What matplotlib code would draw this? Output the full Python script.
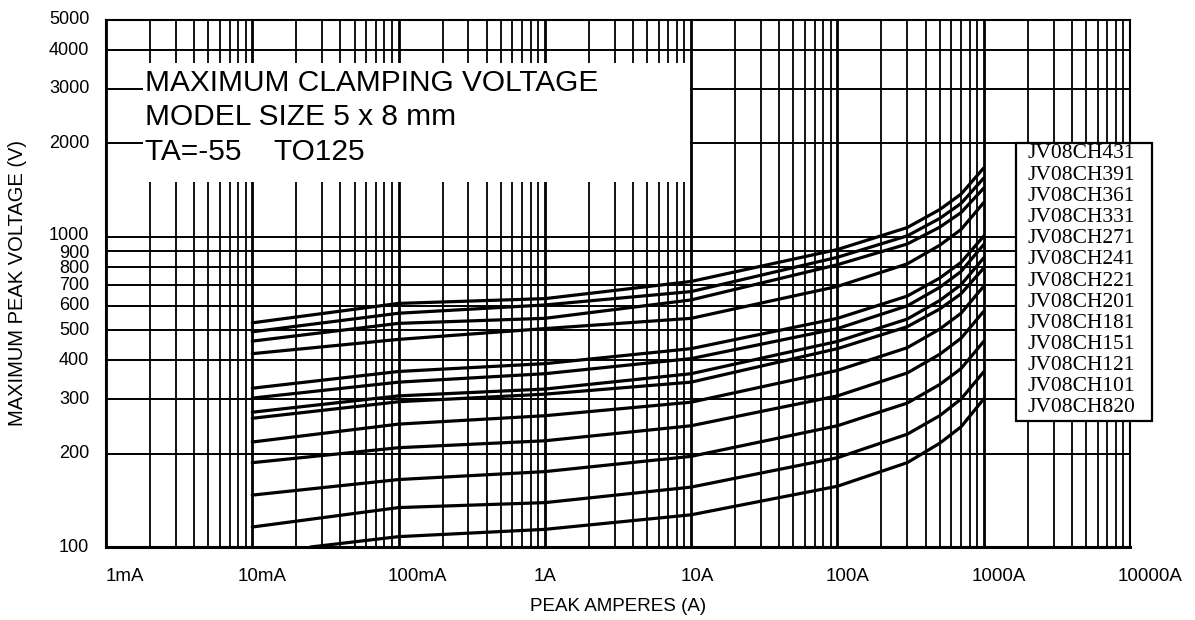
import matplotlib
matplotlib.use("Agg")
import matplotlib.pyplot as plt
from matplotlib.patches import Rectangle
from matplotlib.ticker import FixedLocator, NullLocator, NullFormatter
from matplotlib.transforms import ScaledTranslation

# ---------------- data ----------------
models = ["JV08CH431", "JV08CH391", "JV08CH361", "JV08CH331", "JV08CH271",
          "JV08CH241", "JV08CH221", "JV08CH201", "JV08CH181", "JV08CH151",
          "JV08CH121", "JV08CH101", "JV08CH820"]

current_pts = [0.01, 0.1, 1, 10, 100, 300, 500, 700, 1000]      # A
current_pts_820 = [0.025, 0.1, 1, 10, 100, 300, 500, 700, 1000]  # A

v_431 = [528, 610, 632, 718, 910, 1071, 1224, 1373, 1667]
v_391 = [494, 567, 603, 666, 859, 1007, 1146, 1281, 1546]
v_361 = [461, 526, 546, 626, 813, 948, 1074, 1197, 1435]
v_331 = [420, 467, 506, 546, 692, 818, 939, 1056, 1289]
v_271 = [325, 368, 390, 436, 546, 644, 736, 827, 1005]
v_241 = [302, 340, 362, 405, 506, 599, 687, 773, 944]
v_221 = [272, 307, 323, 362, 460, 543, 623, 701, 855]
v_201 = [260, 294, 311, 340, 436, 513, 585, 655, 793]
v_181 = [218, 249, 265, 293, 371, 439, 504, 567, 693]
v_151 = [187, 209, 220, 246, 307, 364, 418, 471, 575]
v_121 = [147, 165, 175, 196, 246, 291, 334, 376, 460]
v_101 = [116, 134, 139, 156, 194, 231, 265, 300, 367]
v_820 = [100, 108, 114, 127, 157, 187, 216, 244, 300]

series = [v_431, v_391, v_361, v_331, v_271, v_241, v_221, v_201,
          v_181, v_151, v_121, v_101, v_820]

x_tick_vals = [1e-3, 1e-2, 1e-1, 1, 10, 100, 1000, 10000]
x_tick_labels = ["1mA", "10mA", "100mA", "1A", "10A", "100A", "1000A", "10000A"]
y_tick_vals = [100, 200, 300, 400, 500, 600, 700, 800, 900, 1000,
               2000, 3000, 4000, 5000]
y_tick_labels = ["100", "200", "300", "400", "500", "600", "700", "800", "900",
                 "1000", "2000", "3000", "4000", "5000"]
title_lines = ["MAXIMUM CLAMPING VOLTAGE", "MODEL SIZE 5 x 8 mm", "TA=-55    TO125"]

# ---------------- layout ----------------
W, H = 1195, 620
fig = plt.figure(figsize=(W / 100, H / 100), dpi=100)
ax = fig.add_axes([106 / W, 1 - 547 / H, (1130 - 106) / W, (547 - 20) / H])

sans = ["Liberation Sans", "DejaVu Sans"]
serif = ["Liberation Serif", "DejaVu Serif"]

ax.set_xscale("log")
ax.set_yscale("log")
ax.set_xlim(1e-3, 1e4)
ax.set_ylim(100, 5000)

# grid
minor_x = [m * 10.0 ** e for e in range(-3, 4) for m in range(2, 10)]
ax.xaxis.set_major_locator(FixedLocator(x_tick_vals))
ax.xaxis.set_minor_locator(FixedLocator(minor_x))
ax.xaxis.set_minor_formatter(NullFormatter())
ax.set_xticklabels(x_tick_labels)
ax.yaxis.set_major_locator(FixedLocator(y_tick_vals))
ax.yaxis.set_minor_locator(NullLocator())
ax.set_yticklabels(y_tick_labels)

ax.grid(which="major", axis="x", color="black", lw=2.0)
ax.grid(which="minor", axis="x", color="black", lw=1.3)
ax.grid(which="major", axis="y", color="black", lw=1.4)

ax.tick_params(which="both", length=0)
ax.tick_params(axis="y", pad=12, labelsize=13)
ax.tick_params(axis="x", pad=15, labelsize=13.5)
for lab in ax.get_xticklabels() + ax.get_yticklabels():
    lab.set_family(sans)

# shift tick labels slightly like the reference
x_label_shift_px = [19, 10, 19, 0, 6, 10, 15, 20]
for lab, dx in zip(ax.get_xticklabels(), x_label_shift_px):
    lab.set_transform(lab.get_transform() + ScaledTranslation(dx / 100, 0, fig.dpi_scale_trans))
y_label_shift_px = [2, 2, 2, 2, 2, 2, 1, 0, 0, 3, 2, 2, 2, 2]
for lab, dy in zip(ax.get_yticklabels(), y_label_shift_px):
    lab.set_transform(lab.get_transform() + ScaledTranslation(0, dy / 100, fig.dpi_scale_trans))

for sp in ax.spines.values():
    sp.set_color("black")
    sp.set_linewidth(1.5)
ax.spines["bottom"].set_linewidth(2.2)

# curves
for name, vals in zip(models, series):
    xs = current_pts_820 if name == "JV08CH820" else current_pts
    ax.plot(xs, vals, color="black", lw=2.3, solid_joinstyle="round",
            solid_capstyle="round", zorder=2, clip_on=True)

# title box
ax.add_patch(Rectangle(((143 - 106) / 1024, (547 - 182) / 527),
                       (690 - 143) / 1024, (182 - 63) / 527,
                       transform=ax.transAxes, facecolor="white",
                       edgecolor="none", zorder=3))
title_y_px = [83, 117, 152]
for txt, ypx in zip(title_lines, title_y_px):
    ax.text((145 - 106) / 1024, (547 - ypx) / 527, txt, transform=ax.transAxes,
            ha="left", va="center", fontsize=21.5, family=sans, zorder=4)

# axis labels
ax.set_xlabel("PEAK AMPERES (A)", fontsize=13.5, family=sans)
ax.xaxis.set_label_coords(0.5, -(598 - 547) / 527)
ax.set_ylabel("MAXIMUM PEAK VOLTAGE (V)", fontsize=14.5, family=sans)
ax.yaxis.set_label_coords(-(106 - 27) / 1024, 0.5)

# legend box (figure coords)
fig.add_artist(Rectangle((1016 / W, 1 - 421 / H), (1152 - 1016) / W, (421 - 143) / H,
                         transform=fig.transFigure, facecolor="white",
                         edgecolor="black", lw=1.6, zorder=5))
top_px, bot_px = 154, 408
step = (bot_px - top_px) / (len(models) - 1)
for i, name in enumerate(models):
    fig.text(1027 / W, 1 - (top_px + i * step) / H, name, ha="left", va="center",
             fontsize=15.5, family=serif, zorder=6)

fig.savefig("out.png", dpi=100, facecolor="white")
